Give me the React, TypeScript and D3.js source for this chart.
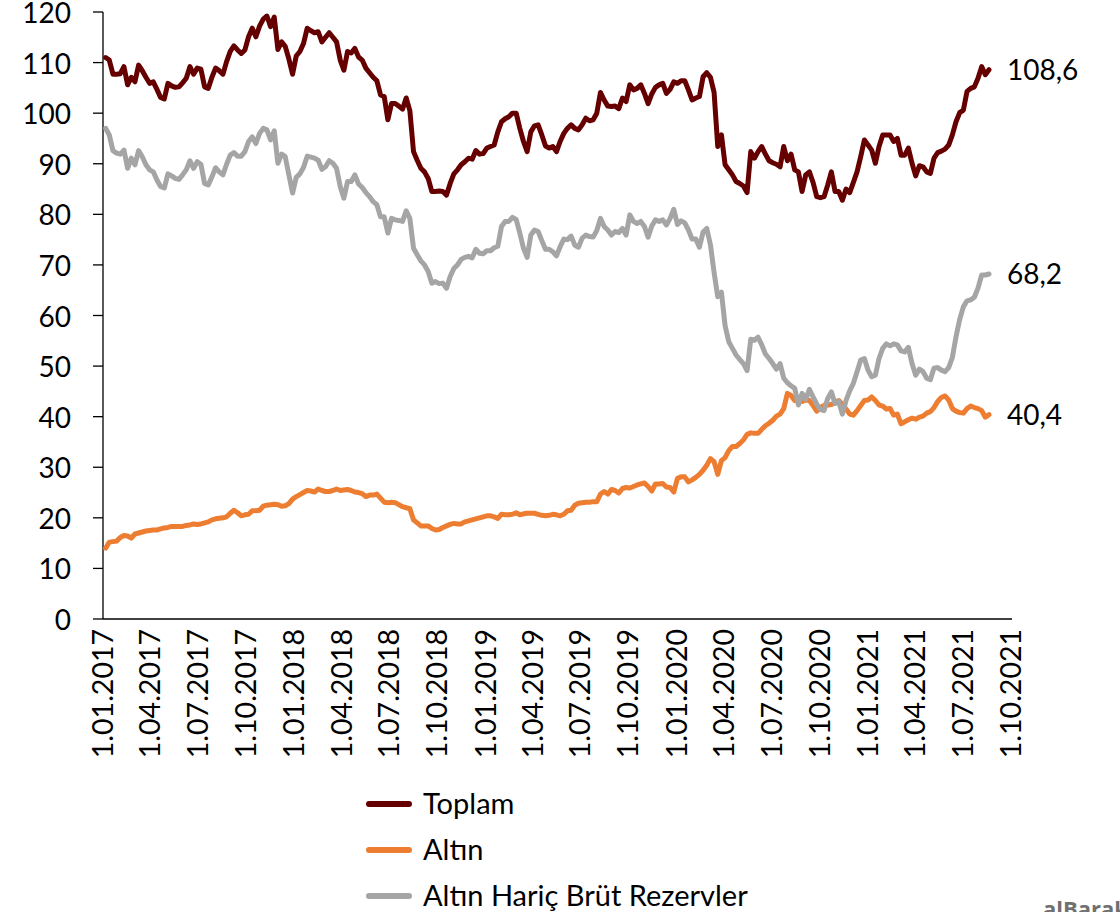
import React from 'react';
import * as d3 from 'd3';

// weekly observations, first one on 6 Jan 2017 (billion USD)
const FIRST_WEEK = new Date(2017, 0, 6);

const TOPLAM = [
  111.0, 110.5, 107.7, 107.7, 107.8, 109.2, 105.6, 107.1, 106.2, 109.5,
  108.4, 107.1, 105.9, 106.2, 104.7, 103.1, 102.8, 105.9, 105.4, 105.1,
  105.2, 106.0, 106.9, 109.2, 107.7, 108.9, 108.7, 105.2, 104.9, 107.1,
  108.9, 108.4, 107.7, 110.2, 112.2, 113.3, 112.5, 111.8, 112.5, 115.1,
  116.8, 115.1, 117.2, 118.6, 119.2, 117.1, 119.0, 112.6, 114.1, 113.2,
  110.7, 107.7, 111.3, 112.2, 113.8, 116.8, 116.3, 115.9, 116.1, 114.1,
  115.0, 115.9, 115.0, 114.1, 110.5, 108.5, 112.2, 111.9, 112.8, 111.1,
  110.5, 108.9, 108.0, 107.1, 106.4, 103.6, 103.3, 98.7, 101.9, 101.9,
  101.4, 100.8, 103.0, 100.5, 92.4, 90.7, 89.1, 88.4, 87.1, 84.5,
  84.5, 84.6, 84.5, 83.8, 86.1, 88.0, 88.8, 89.8, 90.4, 91.1,
  90.9, 92.6, 91.9, 92.0, 93.1, 93.4, 93.7, 96.3, 98.3, 98.9,
  99.3, 100.0, 100.0, 97.0, 94.4, 92.4, 96.3, 97.5, 97.7, 95.7,
  93.5, 93.1, 93.4, 92.4, 94.4, 96.0, 97.0, 97.7, 97.0, 96.7,
  97.7, 99.0, 98.5, 98.7, 100.0, 104.1, 102.6, 101.4, 101.3, 101.4,
  100.9, 103.0, 102.3, 105.6, 104.6, 104.9, 105.6, 103.9, 101.9, 103.8,
  105.1, 105.6, 105.9, 103.9, 104.7, 106.2, 105.9, 106.4, 106.4, 104.6,
  102.6, 103.0, 103.3, 107.2, 108.0, 107.1, 104.1, 93.4, 95.7, 89.8,
  88.8, 87.8, 86.5, 86.1, 85.6, 84.3, 92.4, 91.1, 92.4, 93.4,
  91.9, 90.6, 90.2, 89.9, 89.4, 93.4, 90.6, 91.9, 88.8, 88.4,
  84.5, 87.8, 88.4, 86.3, 83.5, 83.3, 83.5, 85.8, 88.4, 84.5,
  84.5, 82.8, 85.0, 84.3, 86.3, 88.4, 91.4, 94.7, 93.7, 92.7,
  90.1, 93.4, 95.7, 95.7, 95.7, 94.4, 95.0, 91.7, 91.7, 93.1,
  90.1, 87.6, 89.6, 89.4, 88.4, 88.1, 91.1, 92.2, 92.5, 92.9,
  93.7, 95.7, 98.3, 100.1, 100.6, 104.3, 104.9, 105.2, 106.9, 109.2,
  107.6, 108.6
];

const ALTIN = [
  14.0, 15.2, 15.3, 15.4, 16.1, 16.5, 16.4, 16.0, 16.8, 17.0,
  17.2, 17.4, 17.5, 17.6, 17.6, 17.8, 18.0, 18.1, 18.3, 18.3,
  18.3, 18.3, 18.5, 18.6, 18.8, 18.7, 18.8, 19.0, 19.2, 19.6,
  19.8, 19.9, 20.0, 20.2, 20.9, 21.5, 21.0, 20.4, 20.6, 20.7,
  21.4, 21.4, 21.5, 22.3, 22.5, 22.6, 22.7, 22.6, 22.3, 22.4,
  22.8, 23.7, 24.2, 24.6, 25.0, 25.4, 25.3, 25.1, 25.7, 25.4,
  25.2, 25.2, 25.4, 25.7, 25.4, 25.5, 25.6, 25.4, 25.1, 25.0,
  24.8, 24.2, 24.5, 24.5, 24.7, 23.9, 23.1, 23.0, 23.1, 23.0,
  22.6, 22.2, 22.0, 21.8, 19.6, 19.0, 18.4, 18.4, 18.4, 17.9,
  17.6, 17.7, 18.1, 18.4, 18.7, 18.9, 18.8, 18.8, 19.2, 19.4,
  19.6, 19.8, 20.0, 20.2, 20.4, 20.4, 20.2, 19.9, 20.7, 20.6,
  20.6, 20.7, 21.0, 20.6, 20.8, 20.9, 20.9, 20.9, 20.7, 20.5,
  20.4, 20.5, 20.7, 20.6, 20.4, 20.7, 21.4, 21.5, 22.5, 22.9,
  23.0, 23.1, 23.1, 23.2, 23.2, 24.7, 25.2, 24.7, 25.6, 25.4,
  24.9, 25.8, 26.0, 25.9, 26.2, 26.5, 26.7, 26.9, 26.2, 25.3,
  26.7, 26.7, 26.8, 26.1, 26.0, 25.1, 27.8, 28.1, 28.1, 27.1,
  27.5, 28.0, 28.6, 29.4, 30.4, 31.7, 31.1, 28.6, 31.3, 31.9,
  33.3, 34.1, 34.1, 34.7, 35.4, 36.5, 36.8, 36.7, 36.7, 37.5,
  38.2, 38.7, 39.3, 40.1, 40.5, 41.6, 44.6, 44.2, 43.2, 43.5,
  43.0, 43.3, 43.2, 42.2, 41.1, 41.8, 42.2, 42.3, 42.4, 42.8,
  43.2, 42.4, 41.5, 40.5, 40.3, 41.2, 42.2, 43.2, 43.3, 43.9,
  43.2, 42.3, 42.1, 41.5, 41.6, 40.3, 40.5, 38.6, 39.0, 39.4,
  39.7, 39.5, 39.9, 40.1, 40.7, 41.0, 41.8, 43.0, 43.8, 44.1,
  43.3, 41.6, 41.1, 40.8, 40.7, 41.6, 42.1, 41.8, 41.6, 41.2,
  39.9, 40.4
];

const HARIC = [
  97.0, 95.7, 92.6, 92.1, 91.9, 92.7, 89.1, 91.1, 89.8, 92.6,
  91.4, 89.8, 88.8, 88.4, 86.8, 85.5, 85.2, 88.0, 87.6, 87.1,
  86.9, 87.8, 88.8, 90.6, 89.1, 90.4, 89.9, 86.1, 85.8, 87.4,
  89.2, 88.4, 87.8, 89.9, 91.7, 92.2, 91.5, 91.5, 92.4, 94.4,
  95.3, 94.0, 96.0, 97.0, 96.7, 94.7, 96.5, 90.1, 91.9, 91.4,
  87.8, 84.2, 87.3, 88.0, 89.3, 91.5, 91.3, 91.1, 90.7, 88.9,
  89.4, 90.6, 90.1, 89.1, 85.5, 83.2, 86.5, 86.5, 87.8, 86.0,
  85.3, 84.3, 83.5, 82.5, 81.9, 79.5, 79.5, 76.3, 79.2, 78.9,
  78.8, 78.6, 80.7, 79.2, 73.3, 72.0, 70.8, 70.0, 68.7, 66.4,
  66.7, 66.3, 66.4, 65.4, 67.7, 69.3, 70.0, 71.1, 71.5, 71.7,
  71.4, 73.1, 72.3, 72.2, 72.8, 72.8, 73.4, 73.7, 77.6, 78.6,
  78.6, 79.4, 79.0, 76.3, 73.3, 71.5, 75.9, 76.9, 76.6, 74.8,
  73.1, 73.1, 72.6, 71.8, 73.6, 75.1, 75.0, 75.7, 73.9, 73.5,
  75.3, 75.9, 75.6, 75.5, 76.8, 79.2, 77.6, 76.9, 75.9, 76.6,
  76.4, 77.2, 75.9, 79.9, 78.6, 78.2, 78.6, 77.6, 75.5, 77.7,
  78.9, 78.6, 78.9, 77.9, 79.2, 81.0, 78.0, 78.7, 78.3, 76.9,
  75.1, 75.1, 73.5, 76.5, 77.2, 74.0, 68.5, 63.7, 64.6, 58.0,
  54.8, 53.5, 52.2, 51.3, 50.5, 49.1, 55.3, 55.1, 55.7, 54.2,
  52.4, 51.5, 50.5, 49.4, 50.5, 47.6, 46.7, 46.1, 45.6, 42.3,
  44.6, 43.4, 45.4, 43.9, 42.5, 41.4, 41.2, 43.6, 44.9, 42.6,
  43.0, 40.5, 43.2, 45.1, 46.6, 48.9, 51.2, 51.5, 49.2, 47.9,
  48.2, 51.5, 53.5, 54.4, 54.0, 54.4, 54.2, 53.0, 52.8, 53.7,
  50.5, 48.2, 49.4, 48.9, 47.6, 47.3, 49.6, 49.7, 49.2, 48.9,
  49.7, 51.7, 55.8, 59.2, 61.7, 62.9, 63.1, 63.6, 65.4, 68.0,
  68.0, 68.2
];

const X_TICKS = [
  '1.01.2017', '1.04.2017', '1.07.2017', '1.10.2017',
  '1.01.2018', '1.04.2018', '1.07.2018', '1.10.2018',
  '1.01.2019', '1.04.2019', '1.07.2019', '1.10.2019',
  '1.01.2020', '1.04.2020', '1.07.2020', '1.10.2020',
  '1.01.2021', '1.04.2021', '1.07.2021', '1.10.2021'
];
const Y_TICKS = [0, 10, 20, 30, 40, 50, 60, 70, 80, 90, 100, 110, 120];

const SERIES = [
  {name: 'Toplam', values: TOPLAM, color: '#660000', endLabel: '108,6'},
  {name: 'Altın', values: ALTIN, color: '#ED7D31', endLabel: '40,4'},
  {name: 'Altın Hariç Brüt Rezervler', values: HARIC, color: '#A5A5A5', endLabel: '68,2'}
];

const FONT = 'Lato, "Open Sans", sans-serif';
const parseTick = d3.timeParse('%d.%m.%Y');

export default function App() {
  const width = 1120;
  const height = 912;
  const plot = {left: 103, right: 1011, top: 12, bottom: 619};

  const tickDates = X_TICKS.map(t => parseTick(t) as Date);
  const x = d3.scaleTime()
    .domain([tickDates[0], tickDates[tickDates.length - 1]])
    .range([plot.left, plot.right]);
  const y = d3.scaleLinear().domain([0, 120]).range([plot.bottom, plot.top]);

  const dates = TOPLAM.map((_, i) => d3.timeDay.offset(FIRST_WEEK, 7 * i));
  const line = d3.line<number>()
    .x((_, i) => x(dates[i]))
    .y(v => y(v));

  const legendY = [804, 850, 896];

  return (
    <svg width={width} height={height}
      style={{position: 'absolute', left: 0, top: 0, background: '#fff'}}
      fontFamily={FONT}>
      {/* y axis */}
      <line x1={plot.left} x2={plot.left} y1={y(120)} y2={plot.bottom}
        stroke="#000" strokeWidth={1.3}/>
      {Y_TICKS.map(t => (
        <g key={t}>
          <line x1={plot.left - 10} x2={plot.left} y1={y(t)} y2={y(t)}
            stroke="#000" strokeWidth={1.3}/>
          <text x={71} y={y(t) + 1} dy="0.36em" textAnchor="end" fontSize={28}
            fill="#000">{t}</text>
        </g>
      ))}
      {/* x axis */}
      <line x1={plot.left} x2={plot.right + 1} y1={plot.bottom} y2={plot.bottom}
        stroke="#000" strokeWidth={1.3}/>
      {X_TICKS.map((t, i) => (
        <text key={t} transform={`translate(${x(tickDates[i])},629) rotate(-90)`}
          dy="0.36em" textAnchor="end" fontSize={28.5} fill="#000">{t}</text>
      ))}

      {/* series */}
      {SERIES.map(s => (
        <path key={s.name} d={line(s.values) || ''} fill="none" stroke={s.color}
          strokeWidth={5} strokeLinejoin="round" strokeLinecap="round"/>
      ))}
      {SERIES.map(s => {
        const last = s.values.length - 1;
        return (
          <text key={s.name + '-end'} x={x(dates[last]) + 18} y={y(s.values[last])}
            dy="0.36em" fontSize={28} fill="#000">{s.endLabel}</text>
        );
      })}

      {/* legend */}
      {SERIES.map((s, i) => (
        <g key={s.name + '-legend'} transform={`translate(0,${legendY[i]})`}>
          <line x1={369} x2={409} y1={0} y2={0} stroke={s.color} strokeWidth={6}
            strokeLinecap="round"/>
          <text x={423} y={0} dy="0.36em" fontSize={29} fill="#000">{s.name}</text>
        </g>
      ))}

      <text x={1043} y={917} fontSize={22} fontWeight="bold" fill="#707070"
        fontFamily='"Open Sans", sans-serif'>alBaraka</text>
    </svg>
  );
}
